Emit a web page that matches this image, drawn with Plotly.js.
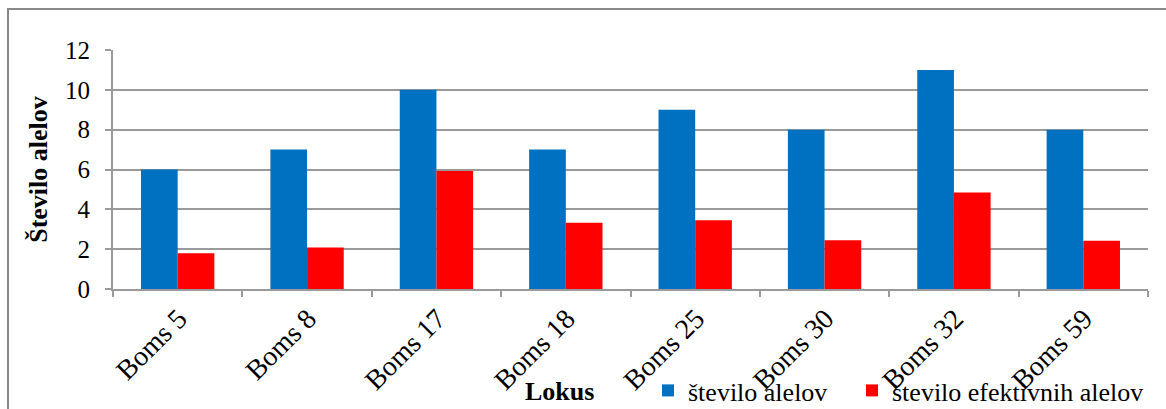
<!DOCTYPE html>
<html>
<head>
<meta charset="utf-8">
<script src="https://cdn.plot.ly/plotly-3.0.1.min.js"></script>
<style>
  html, body { margin: 0; padding: 0; background: #fff; overflow: hidden; }
  #wrap { position: relative; width: 1166px; height: 409px; }
  #chart { position: absolute; left: 0; top: 0; width: 1166px; height: 409px; }
  #frame { position: absolute; left: 7px; top: 8px; width: 1200px; height: 450px;
           border: 2px solid #888; pointer-events: none; box-sizing: border-box; }
</style>
</head>
<body>
<div id="wrap">
  <div id="chart"></div>
  <div id="frame"></div>
</div>
<script>
const categories = ["Boms 5", "Boms 8", "Boms 17", "Boms 18", "Boms 25", "Boms 30", "Boms 32", "Boms 59"];
const steviloAlelov = [6, 7, 10, 7, 9, 8, 11, 8];
const steviloEfektivnih = [1.8, 2.08, 5.92, 3.33, 3.45, 2.45, 4.85, 2.42];
const seriesNames = ["število alelov", "število efektivnih alelov"];
const yTitle = "Število alelov";
const xTitle = "Lokus";

const FONT = "Liberation Serif";
const GRID = "#9a9a9a";

const traces = [
  { type: "bar", x: categories, y: steviloAlelov, name: seriesNames[0],
    marker: { color: "#0070C0" }, legend: "legend" },
  { type: "bar", x: categories, y: steviloEfektivnih, name: seriesNames[1],
    marker: { color: "#FF0000" }, legend: "legend2" }
];

const legendBase = {
  orientation: "h", xref: "container", yref: "container",
  xanchor: "left", y: (409 - 367) / 409, yanchor: "top",
  font: { family: FONT, size: 26, color: "#000" },
  bgcolor: "rgba(0,0,0,0)", itemwidth: 30
};

const layout = {
  width: 1166, height: 409,
  margin: { l: 113, r: 18, t: 50, b: 120, pad: 0, autoexpand: false },
  paper_bgcolor: "#fff", plot_bgcolor: "#fff",
  font: { family: FONT, size: 25, color: "#000" },
  barmode: "group", bargap: 0.433, bargroupgap: 0,
  showlegend: true,
  legend: Object.assign({}, legendBase, { x: 648 / 1166 }),
  legend2: Object.assign({}, legendBase, { x: 852 / 1166 }),
  xaxis: {
    type: "category", tickson: "boundaries", ticks: "outside", ticklen: 6, automargin: false,
    tickcolor: GRID, tickwidth: 2, showline: true, linecolor: GRID, linewidth: 2,
    showgrid: false, zeroline: false, tickangle: -45, ticklabelstandoff: 0, ticklabelshift: 1,
    tickfont: { family: FONT, size: 28, color: "#000" }
  },
  yaxis: {
    range: [0, 12], dtick: 2, ticks: "outside", ticklen: 6, tickcolor: GRID, tickwidth: 2, automargin: false,
    showline: true, linecolor: GRID, linewidth: 2, showgrid: true, gridcolor: GRID, gridwidth: 2,
    zeroline: false, ticklabelstandoff: 10,
    tickfont: { family: FONT, size: 25, color: "#000" },
    title: { text: yTitle, standoff: 10, font: { family: FONT, size: 26, color: "#000", weight: "bold" } }
  },
  annotations: [
    { text: "<b>" + xTitle + "</b>", xref: "paper", yref: "paper",
      x: (559 - 113) / 1035, y: -(391 - 289) / 239, xanchor: "center", yanchor: "middle",
      showarrow: false, font: { family: FONT, size: 26, color: "#000" } }
  ]
};

Plotly.newPlot("chart", traces, layout, { displayModeBar: false, staticPlot: true });
</script>
</body>
</html>
